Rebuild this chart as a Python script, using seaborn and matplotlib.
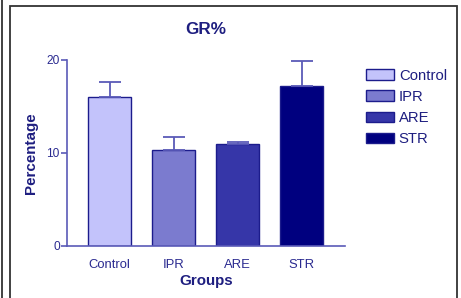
import matplotlib
matplotlib.use("Agg")
import matplotlib.pyplot as plt
import pandas as pd
import seaborn as sns
from matplotlib.patches import Rectangle
from matplotlib.lines import Line2D

groups = ['Control', 'IPR', 'ARE', 'STR']
means = [16.0, 10.3, 10.95, 17.25]
errs = [1.6, 1.45, 0.2, 2.6]
colors = ['#c3c3fb', '#7b7bcf', '#3636a8', '#00007f']

df = pd.DataFrame({'Group': groups, 'GR': means})

sns.set_style('white')
plt.rcParams['font.family'] = ['Liberation Sans', 'DejaVu Sans']

navy = '#1e1e80'
axis_col = '#5a5ab8'

fig = plt.figure(figsize=(4.61, 2.98), dpi=100)
ax = fig.add_axes([0.1447, 0.1755, 0.6033, 0.6232])

sns.barplot(data=df, x='Group', y='GR', hue='Group', palette=colors, saturation=1,
            width=0.67, edgecolor='#1c1c8c', linewidth=1.0, legend=True, ax=ax)

ax.errorbar(range(len(groups)), means, yerr=[[0] * len(errs), errs], fmt='none',
            ecolor=axis_col, elinewidth=1.3, capsize=7.9, capthick=1.3)

ax.set_ylim(0, 20)
ax.set_xlim(-0.67, 3.67)
ax.set_yticks([0, 10, 20])
sns.despine(ax=ax)
for s in ['left', 'bottom']:
    ax.spines[s].set_color(axis_col)
    ax.spines[s].set_linewidth(1.2)
ax.tick_params(axis='y', left=True, length=4, width=1.2, color=axis_col,
               labelsize=8.6, labelcolor='#2a2a90', pad=1)
ax.tick_params(axis='x', bottom=False, labelsize=9.4, labelcolor='#2a2a90', pad=6)

ax.set_title('GR%', fontsize=12.3, fontweight='bold', color=navy, pad=19)
ax.set_xlabel('Groups', fontsize=10.9, fontweight='bold', color=navy, labelpad=2)
ax.set_ylabel('Percentage', fontsize=10.9, fontweight='bold', color=navy, labelpad=6)

leg = ax.legend(loc='upper left', bbox_to_anchor=(1.055, 0.985), frameon=False,
                fontsize=10.7, handlelength=1.9, handleheight=0.7,
                handletextpad=0.3, labelspacing=0.48, borderaxespad=0)
for t in leg.get_texts():
    t.set_color(navy)

# outer frame
fig.patches.append(Rectangle((9.5 / 461, -0.1), (457 - 9.5) / 461, 1.1 - 6 / 298,
                             transform=fig.transFigure, fill=False,
                             edgecolor='#333333', linewidth=1.3))
fig.lines.append(Line2D([1.5 / 461, 1.5 / 461], [0, 1], transform=fig.transFigure,
                        color='#333333', linewidth=1.3))

fig.savefig('out.png', dpi=100)
